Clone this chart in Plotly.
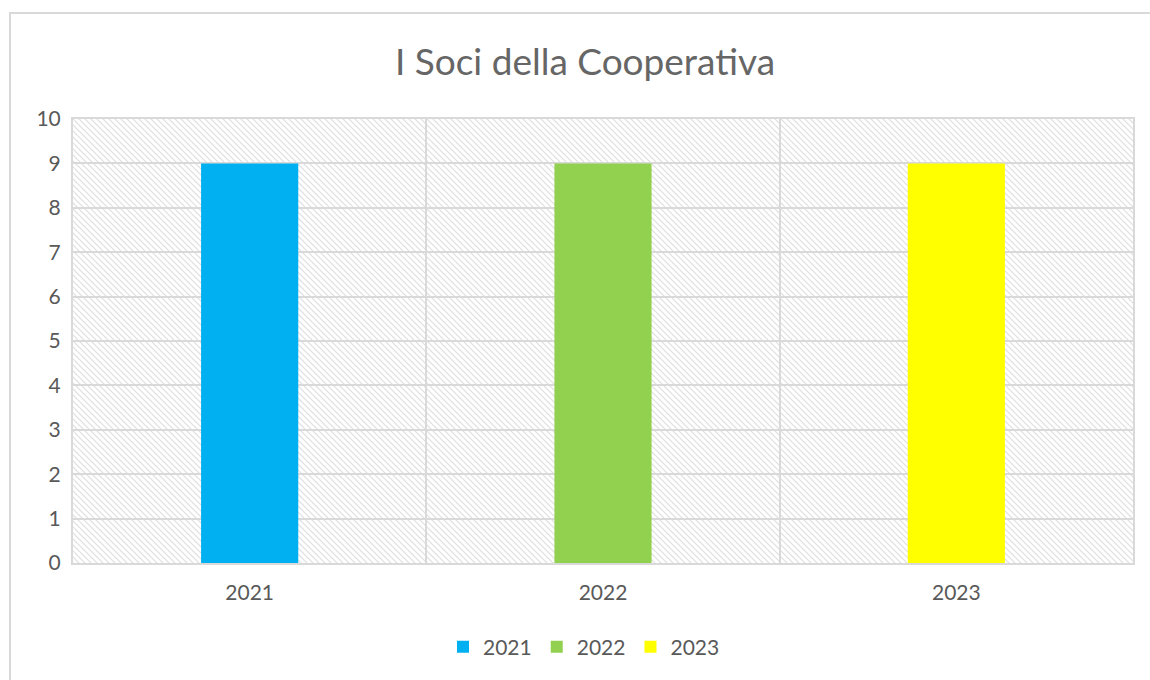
import base64
import plotly.graph_objects as go

# ---- data ----
categories = ["2021", "2022", "2023"]
series_names = ["2021", "2022", "2023"]
values = [9, 9, 9]
colors = ["#00B0F0", "#92D050", "#FFFF00"]
y_ticks = list(range(0, 11))
title_text = "I Soci della Cooperativa"

W, H = 1150, 680
L, R, T, B = 73, 17, 119, 117
PW, PH = W - L - R, H - T - B

# hatch background (light gray downward diagonal)
s = 6
svg = f'''<svg xmlns="http://www.w3.org/2000/svg" width="{PW}" height="{PH}" viewBox="0 0 {PW} {PH}">
<defs><pattern id="p" width="{s}" height="{s}" patternUnits="userSpaceOnUse">
<path d="M-1,-1 L{s+1},{s+1} M-1,{s-1} L1,{s+1} M{s-1},-1 L{s+1},1" stroke="#dedede" stroke-width="1.2"/>
</pattern></defs>
<rect width="{PW}" height="{PH}" fill="#ffffff"/>
<rect width="{PW}" height="{PH}" fill="url(#p)"/>
</svg>'''
hatch_uri = "data:image/svg+xml;base64," + base64.b64encode(svg.encode()).decode()

fig = go.Figure()
for name, cat, val, col in zip(series_names, categories, values, colors):
    fig.add_trace(go.Bar(
        x=[cat], y=[val], name=name,
        marker=dict(color=col, line=dict(width=0)),
    ))

font_family = "Lato, 'Open Sans', sans-serif"
fig.update_layout(
    width=W, height=H,
    margin=dict(l=L, r=R, t=T, b=B),
    paper_bgcolor="white",
    plot_bgcolor="white",
    barmode="overlay",
    bargap=0.725,
    font=dict(family=font_family, color="#595959", size=21),
    title=dict(text=title_text, x=585 / W, xref="container", xanchor="center",
               y=1 - 62 / H, yref="container", yanchor="middle",
               font=dict(size=37, color="#666666", family=font_family)),
    legend=dict(orientation="h", x=(584 - L) / PW, xanchor="center",
                y=(563 - 647) / PH, yanchor="middle",
                font=dict(size=21, color="#595959"),
                itemwidth=30, traceorder="normal"),
    images=[dict(source=hatch_uri, xref="x domain", yref="y domain",
                 x=0, y=1, sizex=1, sizey=1, xanchor="left", yanchor="top",
                 sizing="stretch", layer="below")],
    shapes=[dict(type="rect", xref="paper", yref="paper",
                 x0=(10 - L) / PW, x1=(1153 - L) / PW,
                 y0=(PH - (700 - T)) / PH, y1=1 + (T - 13) / PH,
                 line=dict(color="#d9d9d9", width=2), fillcolor="rgba(0,0,0,0)",
                 layer="below")],
)
fig.update_xaxes(
    type="category", tickson="boundaries", showgrid=True, gridcolor="#d9d9d9",
    gridwidth=2, showline=True, linecolor="#d9d9d9", linewidth=2, mirror=True,
    ticks="", tickfont=dict(size=21, color="#595959"), ticklabelstandoff=10,
)
fig.update_yaxes(
    range=[0, 10], tickvals=y_ticks, showgrid=True, gridcolor="#d9d9d9",
    gridwidth=2, showline=True, linecolor="#d9d9d9", linewidth=2, mirror=True,
    zeroline=False, ticks="", tickfont=dict(size=21, color="#595959"),
    ticklabelstandoff=6,
)

fig.write_html("out.html")
